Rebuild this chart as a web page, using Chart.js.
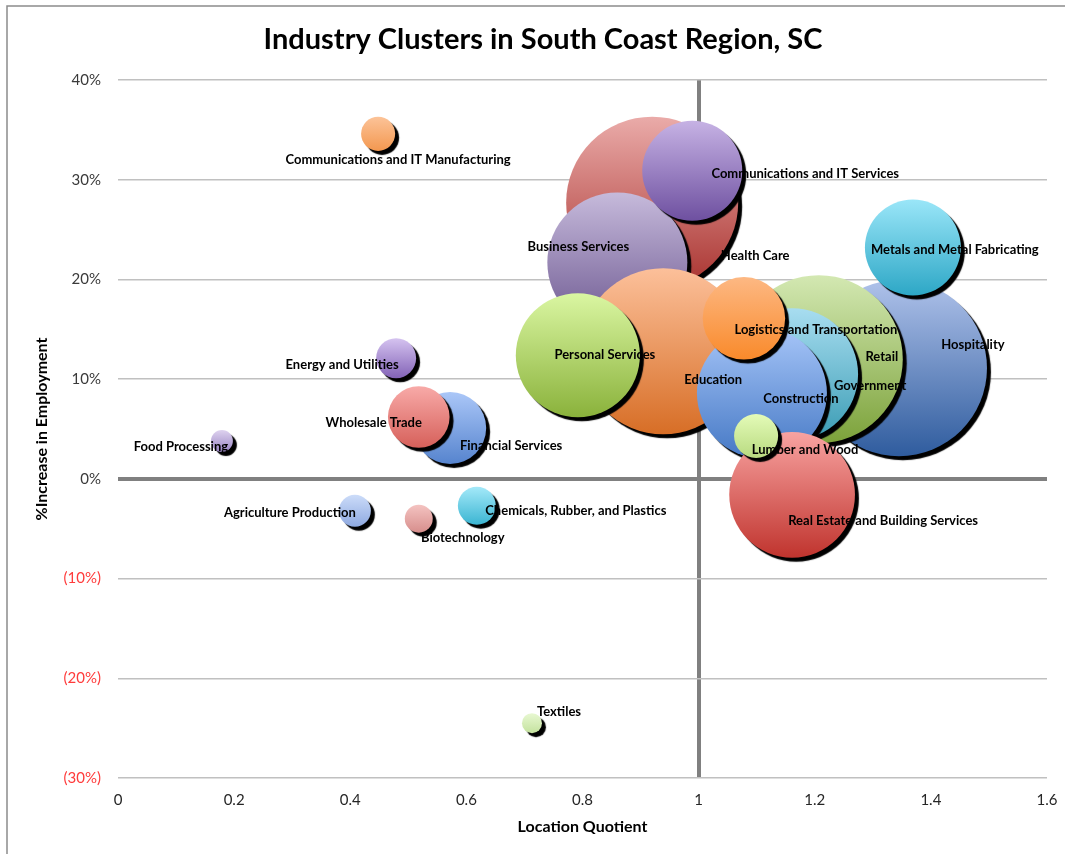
<!DOCTYPE html>
<html>
<head>
<meta charset="utf-8">
<script src="https://cdn.jsdelivr.net/npm/chart.js@4"></script>
<style>
  html, body { margin: 0; padding: 0; background: #fff; }
  #wrap { width: 1065px; height: 854px; position: relative; }
</style>
</head>
<body>
<div id="wrap"><canvas id="c" width="1065" height="854"></canvas></div>
<script>
// ---------- DATA (drawing order as in the original) ----------
const chartTitle = "Industry Clusters in South Coast Region, SC";
const clusters = [
  "Hospitality", "Health Care", "Retail", "Business Services", "Education",
  "Government", "Construction", "Real Estate and Building Services", "Personal Services",
  "Communications and IT Services", "Metals and Metal Fabricating", "Logistics and Transportation",
  "Lumber and Wood", "Financial Services", "Wholesale Trade", "Energy and Utilities",
  "Chemicals, Rubber, and Plastics", "Communications and IT Manufacturing",
  "Agriculture Production", "Biotechnology", "Food Processing", "Textiles"
];
const locationQuotient = [
  1.345, 0.92, 1.207, 0.86, 0.939,
  1.161, 1.109, 1.161, 0.792,
  0.989, 1.369, 1.078,
  1.099, 0.572, 0.518, 0.479,
  0.618, 0.448,
  0.408, 0.518, 0.179, 0.713
];
const pctIncrease = [
  11.1, 27.7, 12.0, 21.7, 12.8,
  10.5, 8.6, -1.6, 12.4,
  30.9, 23.2, 16.1,
  4.3, 5.1, 6.2, 12.1,
  -2.7, 34.6,
  -3.2, -4.0, 3.8, -24.5
];
const employment = [
  15500, 14800, 14100, 9800, 13800,
  8700, 8450, 7900, 7700,
  5000, 4600, 3400,
  970, 2600, 1900, 800,
  720, 580,
  510, 390, 240, 200
];
const xTicks = [0, 0.2, 0.4, 0.6, 0.8, 1, 1.2, 1.4, 1.6];
const yTicks = [-30, -20, -10, 0, 10, 20, 30, 40];

// ---------- STYLE ----------
const gradTop = [
  "#AFC2EA", "#EAABA9", "#D3E8B2", "#C6BADB", "#FCC09A",
  "#A8DDF0", "#A6C5F8", "#F8A3A1", "#DAF6A2",
  "#C6B2E4", "#9AE6F8", "#FDB883",
  "#E4FBB8", "#ABC7F8", "#F8AAA8", "#D5C3F0",
  "#A4E9F9", "#FCC398",
  "#CCDCF9", "#F4C3C1", "#DED2EF", "#E8F8D2"
];
const gradBottom = [
  "#2F5C9E", "#A9332F", "#7CA23A", "#6B568F", "#D76E26",
  "#3A9CB4", "#4679C5", "#C0342E", "#8AB23B",
  "#6E50A0", "#2DA7C6", "#F98A2B",
  "#B8DA80", "#5684CE", "#D6605A", "#8363B7",
  "#3BB5D2", "#F39850",
  "#8EA9E0", "#D78E8C", "#9A86C4", "#C4E29E"
];
// label offsets from bubble centre (px)
const labelDx = [74, 103, 63, -39, 50, 78, 39, 91, 27, 113, 42, 72, 49, 61, -45, -54, 99, 20, -65, 44, -41, 27];
const labelDy = [-23, 53, -2, -16, 29, 12, 6, 26, 0, 3, 2, 11, 14, 18, 6, 7, 5, 26, 2, 19, 6, -11];

const FONT = "Lato, 'Open Sans', sans-serif";

const points = clusters.map((n, i) => ({
  x: locationQuotient[i], y: pctIncrease[i], r: Math.sqrt(employment[i] / 2), name: n, idx: i
}));

function bubbleFill(ctx) {
  const chart = ctx.chart;
  const raw = ctx.raw;
  if (!raw) return gradBottom[0];
  const sy = chart.scales && chart.scales.y;
  const py = sy ? sy.getPixelForValue(raw.y) : NaN;
  if (!isFinite(py) || !isFinite(raw.r)) return gradBottom[raw.idx];
  const g = chart.ctx.createLinearGradient(0, py - raw.r, 0, py + raw.r);
  g.addColorStop(0, gradTop[raw.idx]);
  g.addColorStop(1, gradBottom[raw.idx]);
  return g;
}

const framePlugin = {
  id: 'frame',
  beforeDraw(chart) {
    const c = chart.ctx;
    c.save();
    c.fillStyle = '#fff';
    c.fillRect(0, 0, chart.width, chart.height);
    c.strokeStyle = '#8c8c8c';
    c.lineWidth = 1.5;
    c.beginPath();
    c.moveTo(7, chart.height);
    c.lineTo(7, 6);
    c.lineTo(chart.width, 6);
    c.stroke();
    c.restore();
  },
  afterDraw(chart) {
    const c = chart.ctx;
    c.save();
    c.font = "bold 29px " + FONT;
    c.fillStyle = '#000';
    c.textAlign = 'center';
    c.textBaseline = 'middle';
    c.fillText(chartTitle, 543, 40);
    c.restore();
  }
};

const shadowPlugin = {
  id: 'bshadow',
  beforeDatasetDraw(chart) {
    const c = chart.ctx;
    c.shadowColor = 'rgba(0,0,0,1)';
    c.shadowOffsetX = 4;
    c.shadowOffsetY = 4;
    c.shadowBlur = 1;
  },
  afterDatasetDraw(chart) {
    const c = chart.ctx;
    c.shadowColor = 'rgba(0,0,0,0)';
    c.shadowOffsetX = 0;
    c.shadowOffsetY = 0;
    c.shadowBlur = 0;
  }
};

const labelPlugin = {
  id: 'blabels',
  afterDatasetsDraw(chart) {
    const c = chart.ctx;
    const meta = chart.getDatasetMeta(0);
    c.save();
    c.font = "bold 13px " + FONT;
    c.fillStyle = '#000';
    c.textAlign = 'center';
    c.textBaseline = 'middle';
    meta.data.forEach((el, i) => {
      const p = points[i];
      c.fillText(p.name, el.x + labelDx[p.idx], el.y + labelDy[p.idx]);
    });
    c.restore();
  }
};

new Chart(document.getElementById('c'), {
  type: 'bubble',
  data: {
    datasets: [{
      data: points,
      backgroundColor: bubbleFill,
      borderWidth: 0,
      borderColor: 'rgba(0,0,0,0)',
      clip: false
    }]
  },
  options: {
    responsive: false,
    animation: false,
    events: [],
    layout: { autoPadding: false, padding: { left: 0, right: 18, top: 80, bottom: 0 } },
    plugins: {
      legend: { display: false },
      tooltip: { enabled: false },
      title: { display: false }
    },
    scales: {
      x: {
        type: 'linear',
        min: 0, max: 1.6,
        afterBuildTicks(s) { s.ticks = xTicks.map(v => ({ value: v })); },
        afterFit(s) { s.height = 76; s.paddingLeft = 0; s.paddingRight = 0; },
        border: { display: false },
        grid: {
          drawTicks: false,
          color: ctx => (ctx.tick && ctx.tick.value === 1) ? '#808080' : 'rgba(0,0,0,0)',
          lineWidth: ctx => (ctx.tick && ctx.tick.value === 1) ? 4 : 0
        },
        ticks: {
          padding: 13,
          color: '#262626',
          font: { family: FONT, size: 15 },
          callback: v => String(Math.round(v * 10) / 10)
        },
        title: {
          display: true,
          text: 'Location Quotient',
          color: '#000',
          font: { family: FONT, size: 16, weight: 'bold' },
          padding: { top: 0, bottom: 18 }
        }
      },
      y: {
        type: 'linear',
        min: -30, max: 40,
        afterBuildTicks(s) { s.ticks = yTicks.map(v => ({ value: v })); },
        afterFit(s) { s.width = 118; s.paddingTop = 0; s.paddingBottom = 0; },
        border: { display: false },
        grid: {
          drawTicks: false,
          color: ctx => (ctx.tick && ctx.tick.value === 0) ? '#808080' : '#c0c0c0',
          lineWidth: ctx => (ctx.tick && ctx.tick.value === 0) ? 4 : 1.5
        },
        ticks: {
          padding: 17,
          color: ctx => (ctx.tick && ctx.tick.value < 0) ? '#ff3b3b' : '#3a3a3a',
          font: { family: FONT, size: 15 },
          callback: v => v < 0 ? '(' + Math.abs(v) + '%)' : v + '%'
        },
        title: {
          display: true,
          text: '%Increase in Employment',
          color: '#000',
          font: { family: FONT, size: 16, weight: 'bold' },
          padding: { top: 32, bottom: 0 }
        }
      }
    }
  },
  plugins: [framePlugin, shadowPlugin, labelPlugin]
});
</script>
</body>
</html>
